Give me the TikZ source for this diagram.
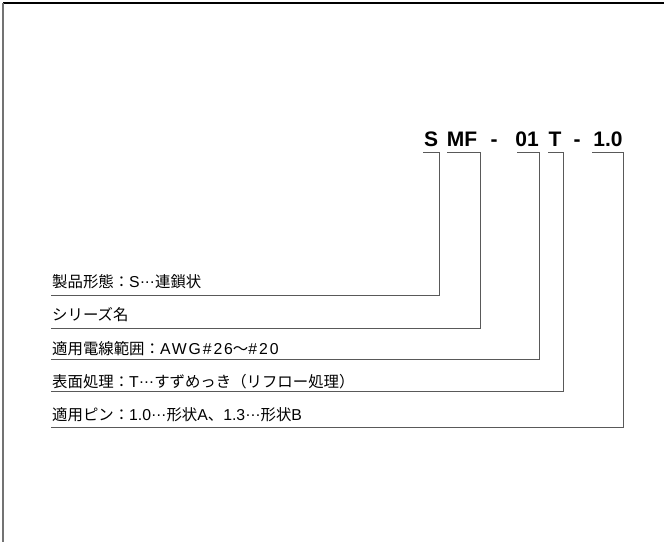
\documentclass[tikz,border=0pt]{standalone}
\usepackage{fontspec}
\setmainfont{Noto Sans CJK JP}
\newfontfamily\partfont{Liberation Sans}
\usepackage{tikz}
\newcommand{\lat}[1]{{\partfont\fontsize{15.8}{18}\selectfont #1}}
\newcommand{\wlat}[1]{{\partfont\addfontfeature{LetterSpace=12}\fontsize{15.8}{18}\selectfont #1}}
\newcommand{\tdots}{\makebox[1em][c]{\raisebox{0.3em}{\lat{.\kern0.6pt.\kern0.6pt.}}}}
\tikzset{
  partno/.style={anchor=base,inner sep=0pt,font=\partfont\bfseries\fontsize{21}{24}\selectfont},
  item/.style={anchor=west,inner sep=0pt,font=\fontsize{15.4}{18}\selectfont},
  lead/.style={draw=black!65,line width=0.9pt}
}
\begin{document}
\begin{tikzpicture}[x=1pt,y=-1pt]
\useasboundingbox (0,0) rectangle (664,542);
\draw [black,line width=1.2pt] (3,3) to (664,3);
\draw [black!55,line width=1.6pt] (3,3) to (3,542);

  \node (s) at (431,146) [partno] {S};
  \node (mf) at (462,146) [partno] {MF};
  \node (d1) at (494,146) [partno] {-};
  \node (num) at (527,146) [partno] {01};
  \node (t) at (555,146) [partno] {T};
  \node (d2) at (577,146) [partno] {-};
  \node (pin) at (608,146) [partno] {1.0};

  \node (form) at (52,282) [item] {製品形態：\lat{S}\tdots 連鎖状};
  \node (series) at (52,315) [item] {シリーズ名};
  \node (wire) at (52,349) [item] {適用電線範囲：\wlat{AWG\#26}〜\wlat{\#20}};
  \node (plating) at (52,382) [item] {表面処理：\lat{T}\tdots すずめっき（リフロー処理）};
  \node (pins) at (52,415) [item] {適用ピン：\lat{1.0}\tdots 形状\lat{A}、\lat{1.3}\tdots 形状\lat{B}};

  \coordinate (s0) at (423,152);   \coordinate (s1) at (439,152);   \coordinate (l1) at (51,295);
  \coordinate (mf0) at (447,152);  \coordinate (mf1) at (480,152);  \coordinate (l2) at (51,328);
  \coordinate (num0) at (517,152); \coordinate (num1) at (539,152); \coordinate (l3) at (51,359);
  \coordinate (t0) at (548,152);   \coordinate (t1) at (563,152);   \coordinate (l4) at (51,391);
  \coordinate (pin0) at (592,152); \coordinate (pin1) at (623,152); \coordinate (l5) at (51,427);

  \draw [lead] (s0) to (s1) |- (l1);
  \draw [lead] (mf0) to (mf1) |- (l2);
  \draw [lead] (num0) to (num1) |- (l3);
  \draw [lead] (t0) to (t1) |- (l4);
  \draw [lead] (pin0) to (pin1) |- (l5);

\end{tikzpicture}
\end{document}
